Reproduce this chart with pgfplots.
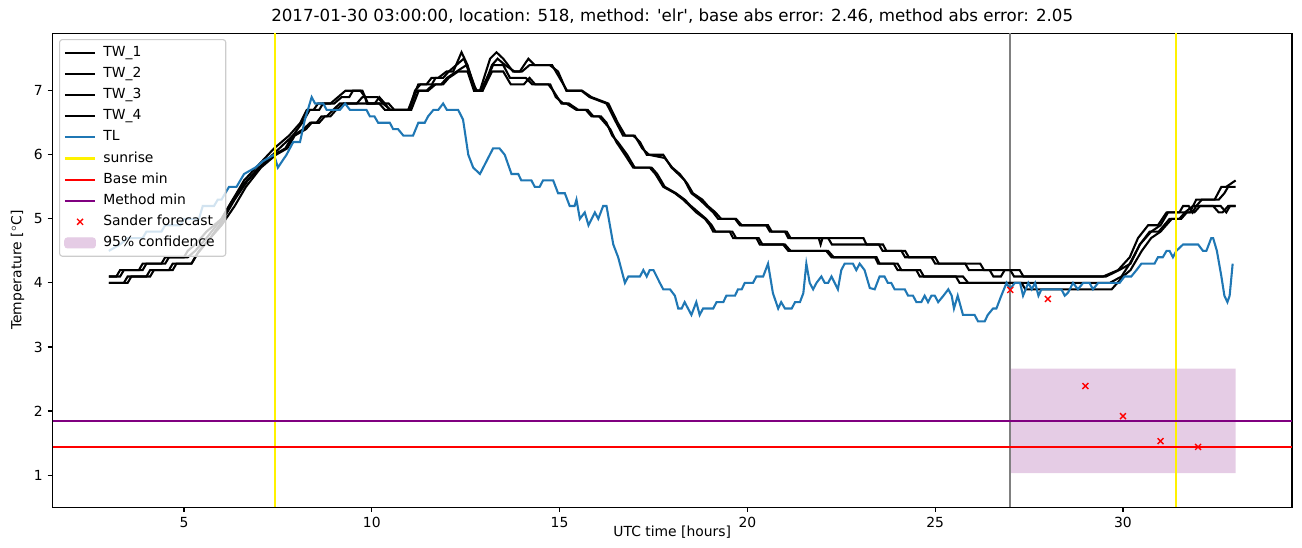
\documentclass[border=0pt]{standalone}
\usepackage{fontspec}
\setmainfont{DejaVu Sans}
\usepackage{pgfplots}
\pgfplotsset{compat=1.18}
\definecolor{tlblue}{HTML}{1F77B4}
\definecolor{mpurple}{HTML}{800080}
\definecolor{conf}{HTML}{E5CCE5}
\pgfplotsset{
  linelegend/.style={legend image code/.code={\draw[##1] (0pt,0pt) -- (22pt,0pt);}},
  sanderlegend/.style={legend image code/.code={\draw[mark repeat=2, mark phase=2, ##1] plot coordinates {(0pt,0pt) (11pt,0pt) (22pt,0pt)};}},
  conflegend/.style={legend image code/.code={\fill[conf, fill opacity=1] (0pt,-3.6pt) rectangle (22pt,3.6pt);}},
}
\begin{document}
\begin{tikzpicture}
\useasboundingbox (-37.8pt,-28.8pt) rectangle (899.6pt,365.1pt);
\begin{axis}[
  scale only axis, width=892.4pt, height=341.3pt,
  xmin=1.5, xmax=34.5, ymin=0.5, ymax=7.9,
  xtick={5,10,15,20,25,30}, ytick={1,2,3,4,5,6,7},
  tick align=outside, tick pos=left,
  major tick length=3.5pt,
  every tick/.style={line width=0.8pt, black},
  axis line style={line width=0.8pt},
  /pgf/number format/assume math mode=true,
  tick label style={font=\fontsize{10}{12}\selectfont},
  xlabel={UTC time [hours]}, ylabel={Temperature [$^\circ$C]},
  label style={font=\fontsize{10}{12}\selectfont},
  xlabel style={yshift=8pt},
  title={2017-01-30 03:00:00, location: 518, method: \textquotesingle elr\textquotesingle, base abs error: 2.46, method abs error: 2.05},
  title style={font=\fontsize{12}{14}\selectfont, at={(0.5,1)}, anchor=base, yshift=2pt},
  legend cell align=left,
  legend style={at={(0,1)}, anchor=north west, xshift=4.7pt, yshift=-4.3pt,
    draw=black!20, line width=0.8pt, rounded corners=2pt, fill=white, fill opacity=0.8, draw opacity=1, text opacity=1,
    font=\fontsize{10}{12}\selectfont, inner xsep=3pt, inner ysep=2pt,
    nodes={inner ysep=2.6pt, inner xsep=5pt, text height=7.6pt, text depth=2.4pt},
    /tikz/every even column/.append style={column sep=0pt}},
  linelegend,
]
% confidence area (drawn first, beneath the lines)
\addplot[fill=conf, draw=none, forget plot] coordinates {(27,1.03) (33,1.03) (33,2.66) (27,2.66) (27,1.03)};
\addplot[gray, line width=1.5pt, forget plot] coordinates {(27,0.5) (27,7.9)};

\addplot[black, line width=1.5pt] coordinates {
(3,4.1)(3.3,4.1)(3.4,4.2)(3.9,4.2)(4.0,4.3)(4.5,4.3)(4.6,4.4)(5.1,4.4)(5.3,4.5)(5.6,4.7)(6.0,5.0)(6.3,5.3)(6.6,5.6)(7.0,5.85)(7.4,6.1)(7.8,6.3)(8.1,6.5)(8.27,6.7)(8.45,6.7)(8.57,6.8)(8.9,6.8)(9.1,6.9)(9.3,7.0)(9.7,7.0)(9.82,6.9)(9.87,6.8)(10.08,6.8)(10.2,6.9)(10.35,6.8)(10.48,6.7)(10.97,6.7)(11.1,6.9)(11.24,7.1)(11.46,7.1)(11.59,7.2)(11.77,7.2)(11.99,7.3)(12.17,7.3)(12.39,7.6)(12.55,7.4)(12.75,7.0)(12.88,7.0)(13.15,7.5)(13.32,7.6)(13.5,7.5)(13.76,7.3)(13.94,7.3)(14.17,7.5)(14.34,7.4)(14.74,7.4)(14.96,7.3)(15.18,7.0)(15.58,7.0)(15.8,6.9)(16.25,6.8)(16.51,6.5)(16.69,6.3)(16.96,6.3)(17.14,6.2)(17.32,6.0)(17.76,6.0)(17.98,5.8)(18.16,5.7)(18.33,5.6)(18.51,5.4)(18.73,5.3)(18.91,5.2)(19.09,5.1)(19.22,5.0)(19.67,5.0)(19.8,4.9)(20.5,4.9)(20.6,4.8)(21.0,4.8)(21.09,4.7)(23.09,4.7)(23.17,4.6)(23.61,4.6)(23.7,4.5)(24.1,4.5)(24.2,4.4)(25.0,4.4)(25.1,4.3)(25.8,4.3)(25.9,4.2)(26.45,4.2)(26.55,4.1)(26.75,4.1)(26.85,4.2)(27.25,4.2)(27.35,4.1)(29.47,4.1)(29.87,4.2)(30.18,4.4)(30.4,4.7)(30.67,4.9)(30.93,4.9)(31.16,5.1)(31.78,5.1)(31.95,5.3)(32.44,5.3)(32.62,5.5)(32.75,5.5)(33.0,5.6)};
\addlegendentry{TW\_1}
\addplot[black, line width=1.5pt] coordinates {
(3,4.0)(3.5,4.0)(3.6,4.1)(4.1,4.1)(4.2,4.2)(4.7,4.2)(4.8,4.3)(5.2,4.3)(5.4,4.5)(5.7,4.7)(6.0,4.95)(6.35,5.3)(6.7,5.6)(7.1,5.85)(7.45,6.05)(7.9,6.3)(8.15,6.5)(8.35,6.7)(8.6,6.7)(8.7,6.8)(9.0,6.8)(9.2,6.9)(9.4,6.9)(9.5,7.0)(9.75,7.0)(9.9,6.8)(10.3,6.8)(10.5,6.7)(11.0,6.7)(11.15,7.0)(11.3,7.1)(11.6,7.1)(11.7,7.2)(11.9,7.2)(12.05,7.3)(12.25,7.4)(12.45,7.5)(12.6,7.3)(12.78,7.0)(12.95,7.0)(13.2,7.4)(13.35,7.5)(13.55,7.4)(13.8,7.3)(14.0,7.3)(14.2,7.4)(14.4,7.4)(14.8,7.4)(15.0,7.2)(15.2,7.0)(15.6,7.0)(15.85,6.9)(16.3,6.8)(16.55,6.5)(16.75,6.3)(17.0,6.3)(17.2,6.1)(17.38,6.0)(17.8,5.95)(18.0,5.8)(18.2,5.7)(18.4,5.55)(18.55,5.4)(18.8,5.3)(18.95,5.2)(19.15,5.1)(19.3,5.0)(19.7,5.0)(19.85,4.9)(20.55,4.9)(20.65,4.8)(21.05,4.8)(21.15,4.7)(21.9,4.7)(21.95,4.6)(22.0,4.7)(22.15,4.7)(22.25,4.6)(23.5,4.6)(23.6,4.5)(24.2,4.5)(24.3,4.4)(24.9,4.4)(25.0,4.3)(26.2,4.3)(26.3,4.2)(27.0,4.2)(27.1,4.1)(29.55,4.1)(29.9,4.2)(30.2,4.3)(30.45,4.6)(30.75,4.8)(31.0,4.9)(31.2,5.1)(31.5,5.1)(31.6,5.2)(31.75,5.2)(31.85,5.1)(31.95,5.2)(32.1,5.3)(32.55,5.3)(32.7,5.4)(32.8,5.5)(33.0,5.5)};
\addlegendentry{TW\_2}
\addplot[black, line width=1.5pt] coordinates {
(3,4.1)(3.2,4.1)(3.3,4.2)(3.8,4.2)(3.9,4.3)(4.4,4.3)(4.5,4.4)(5.0,4.4)(5.1,4.5)(5.3,4.6)(5.6,4.8)(6.0,5.0)(6.3,5.3)(6.6,5.55)(7.0,5.8)(7.4,6.0)(7.7,6.1)(7.9,6.3)(8.18,6.4)(8.36,6.5)(8.53,6.5)(8.66,6.6)(8.8,6.6)(8.97,6.7)(9.15,6.8)(9.6,6.8)(9.75,6.9)(10.15,6.9)(10.3,6.8)(10.45,6.8)(10.6,6.7)(11.0,6.7)(11.19,7.0)(11.46,7.0)(11.64,7.1)(11.85,7.1)(12.0,7.2)(12.26,7.3)(12.52,7.4)(12.7,7.1)(12.8,7.0)(12.9,7.0)(13.15,7.3)(13.23,7.4)(13.5,7.4)(13.68,7.2)(14.1,7.2)(14.27,7.1)(14.7,7.1)(14.83,7.0)(15.05,6.8)(15.18,6.8)(15.45,6.7)(15.7,6.7)(15.85,6.6)(16.05,6.6)(16.2,6.5)(16.35,6.4)(16.51,6.2)(16.74,6.0)(16.96,5.8)(17.4,5.8)(17.55,5.7)(17.76,5.5)(18.07,5.4)(18.29,5.3)(18.47,5.2)(18.64,5.1)(18.87,5.0)(19.0,4.9)(19.09,4.8)(19.53,4.8)(19.62,4.7)(20.24,4.7)(20.33,4.6)(20.95,4.6)(21.09,4.5)(22.1,4.5)(22.24,4.4)(23.44,4.4)(23.52,4.3)(24.0,4.3)(24.1,4.2)(24.5,4.2)(24.59,4.1)(25.74,4.1)(25.88,4.0)(29.65,4.0)(29.96,4.1)(30.18,4.3)(30.45,4.6)(30.71,4.8)(30.95,4.8)(31.24,5.0)(31.5,5.0)(31.65,5.1)(31.86,5.2)(32.4,5.2)(32.55,5.1)(32.65,5.1)(32.8,5.2)(33.0,5.2)};
\addlegendentry{TW\_3}
\addplot[black, line width=1.5pt] coordinates {
(3,4.0)(3.4,4.0)(3.5,4.1)(4.0,4.1)(4.1,4.2)(4.6,4.2)(4.7,4.3)(5.2,4.3)(5.35,4.45)(5.7,4.7)(6.0,4.9)(6.35,5.2)(6.65,5.5)(7.05,5.8)(7.45,6.0)(7.75,6.1)(7.95,6.3)(8.25,6.4)(8.4,6.5)(8.6,6.5)(8.75,6.6)(8.9,6.6)(9.05,6.7)(9.25,6.8)(10.2,6.8)(10.35,6.7)(11.05,6.7)(11.25,7.0)(11.5,7.0)(11.7,7.1)(11.9,7.1)(12.05,7.2)(12.3,7.3)(12.55,7.3)(12.72,7.0)(12.95,7.0)(13.2,7.3)(13.5,7.3)(13.7,7.1)(14.05,7.1)(14.2,7.2)(14.35,7.1)(14.75,7.1)(14.9,6.9)(15.1,6.8)(15.25,6.8)(15.5,6.7)(15.75,6.7)(15.9,6.6)(16.1,6.6)(16.25,6.5)(16.4,6.3)(16.55,6.2)(16.8,6.0)(17.0,5.8)(17.45,5.8)(17.6,5.7)(17.8,5.5)(18.1,5.4)(18.33,5.3)(18.5,5.2)(18.7,5.1)(18.9,5.0)(19.05,4.9)(19.15,4.8)(19.6,4.8)(19.7,4.7)(20.3,4.7)(20.4,4.6)(21.0,4.6)(21.15,4.5)(22.15,4.5)(22.3,4.4)(23.4,4.4)(23.48,4.3)(23.9,4.3)(24.0,4.2)(24.6,4.2)(24.7,4.1)(25.55,4.1)(25.65,4.0)(27.3,4.0)(27.4,3.9)(29.7,3.9)(30.0,4.1)(30.2,4.2)(30.5,4.5)(30.75,4.7)(31.0,4.8)(31.3,5.0)(31.55,5.0)(31.7,5.1)(31.9,5.1)(32.05,5.2)(32.6,5.2)(32.75,5.1)(32.85,5.2)(33.0,5.2)};
\addlegendentry{TW\_4}
\addplot[tlblue, line width=1.5pt] coordinates {
(3,4.5)(3.3,4.6)(3.5,4.7)(3.9,4.7)(4.0,4.8)(4.4,4.8)(4.5,4.9)(4.9,4.9)(5.0,5.0)(5.4,5.0)(5.5,5.2)(5.8,5.2)(5.9,5.3)(6.0,5.3)(6.2,5.5)(6.4,5.5)(6.5,5.6)(6.6,5.7)(6.9,5.8)(7.1,5.9)(7.4,6.0)(7.5,5.8)(7.73,6.0)(7.91,6.2)(8.09,6.2)(8.22,6.55)(8.4,6.9)(8.49,6.8)(8.71,6.8)(8.8,6.7)(9.15,6.7)(9.29,6.8)(9.42,6.7)(9.86,6.7)(9.95,6.6)(10.07,6.6)(10.17,6.5)(10.48,6.5)(10.57,6.4)(10.7,6.4)(10.84,6.3)(11.1,6.3)(11.24,6.5)(11.41,6.5)(11.5,6.6)(11.64,6.7)(11.77,6.7)(11.9,6.8)(12.0,6.7)(12.3,6.7)(12.43,6.55)(12.57,6.0)(12.7,5.8)(12.88,5.7)(13.23,6.1)(13.4,6.1)(13.54,6.0)(13.72,5.7)(13.9,5.7)(13.98,5.6)(14.25,5.6)(14.34,5.5)(14.47,5.5)(14.56,5.6)(14.83,5.6)(14.96,5.4)(15.14,5.4)(15.27,5.2)(15.4,5.2)(15.45,5.3)(15.54,5.0)(15.67,5.1)(15.77,4.9)(15.94,5.1)(16.03,5.0)(16.16,5.2)(16.25,5.2)(16.43,4.6)(16.56,4.4)(16.74,4.0)(16.83,4.1)(17.14,4.1)(17.23,4.2)(17.32,4.1)(17.4,4.2)(17.5,4.2)(17.67,4.0)(17.76,3.9)(17.94,3.9)(18.07,3.8)(18.16,3.6)(18.25,3.6)(18.33,3.7)(18.51,3.5)(18.64,3.7)(18.73,3.5)(18.82,3.6)(19.09,3.6)(19.18,3.7)(19.36,3.7)(19.44,3.8)(19.67,3.8)(19.75,3.9)(19.85,3.9)(19.93,4.0)(20.15,4.0)(20.24,4.1)(20.42,4.1)(20.55,4.3)(20.68,3.84)(20.82,3.6)(20.9,3.7)(21.0,3.6)(21.18,3.6)(21.27,3.7)(21.4,3.7)(21.49,3.84)(21.57,4.3)(21.66,4.0)(21.75,3.9)(21.84,4.0)(21.97,4.1)(22.06,4.0)(22.15,4.0)(22.24,4.1)(22.41,3.9)(22.5,4.2)(22.59,4.3)(22.81,4.3)(22.9,4.2)(22.99,4.3)(23.12,4.2)(23.26,3.92)(23.39,3.9)(23.52,4.1)(23.65,4.1)(23.74,4.0)(23.83,4.0)(23.92,3.9)(24.19,3.9)(24.28,3.8)(24.41,3.8)(24.5,3.7)(24.63,3.7)(24.72,3.8)(24.81,3.7)(24.9,3.8)(24.99,3.8)(25.08,3.7)(25.22,3.8)(25.35,3.9)(25.44,3.8)(25.5,3.6)(25.6,3.8)(25.74,3.5)(26.05,3.5)(26.14,3.4)(26.32,3.4)(26.4,3.5)(26.54,3.6)(26.63,3.6)(26.76,3.8)(26.9,4.0)(26.99,3.9)(27.12,4.0)(27.26,4.0)(27.34,3.8)(27.48,4.0)(27.57,3.9)(27.66,4.0)(27.75,3.8)(27.83,3.9)(28.36,3.9)(28.45,3.8)(28.54,3.85)(28.67,4.0)(28.8,3.9)(28.94,4.0)(29.11,4.0)(29.2,3.9)(29.34,4.0)(29.91,4.0)(30.04,4.1)(30.22,4.1)(30.36,4.2)(30.49,4.3)(30.84,4.3)(30.93,4.4)(31.06,4.4)(31.16,4.5)(31.24,4.5)(31.33,4.4)(31.42,4.5)(31.6,4.6)(32.0,4.6)(32.13,4.5)(32.22,4.5)(32.35,4.7)(32.4,4.7)(32.5,4.5)(32.62,4.1)(32.7,3.8)(32.78,3.7)(32.84,3.8)(32.92,4.3)};
\addlegendentry{TL}
\addplot[yellow, line width=1.5pt] coordinates {(7.42,0.5) (7.42,7.9)};
\addlegendentry{sunrise}
\addplot[yellow, line width=1.5pt, forget plot] coordinates {(31.42,0.5) (31.42,7.9)};
\addplot[red, line width=1.5pt] coordinates {(1.5,1.44) (34.5,1.44)};
\addlegendentry{Base min}
\addplot[mpurple, line width=1.5pt] coordinates {(1.5,1.84) (34.5,1.84)};
\addlegendentry{Method min}
\addplot[red, only marks, mark=x, mark size=3pt, mark options={line width=1pt}, sanderlegend] coordinates {
(27,3.89) (28,3.75) (29,2.39) (30,1.92) (31,1.53) (32,1.44)};
\addlegendentry{Sander forecast}
\addlegendimage{conflegend}
\addlegendentry{95\% confidence}
\end{axis}
\end{tikzpicture}
\end{document}
